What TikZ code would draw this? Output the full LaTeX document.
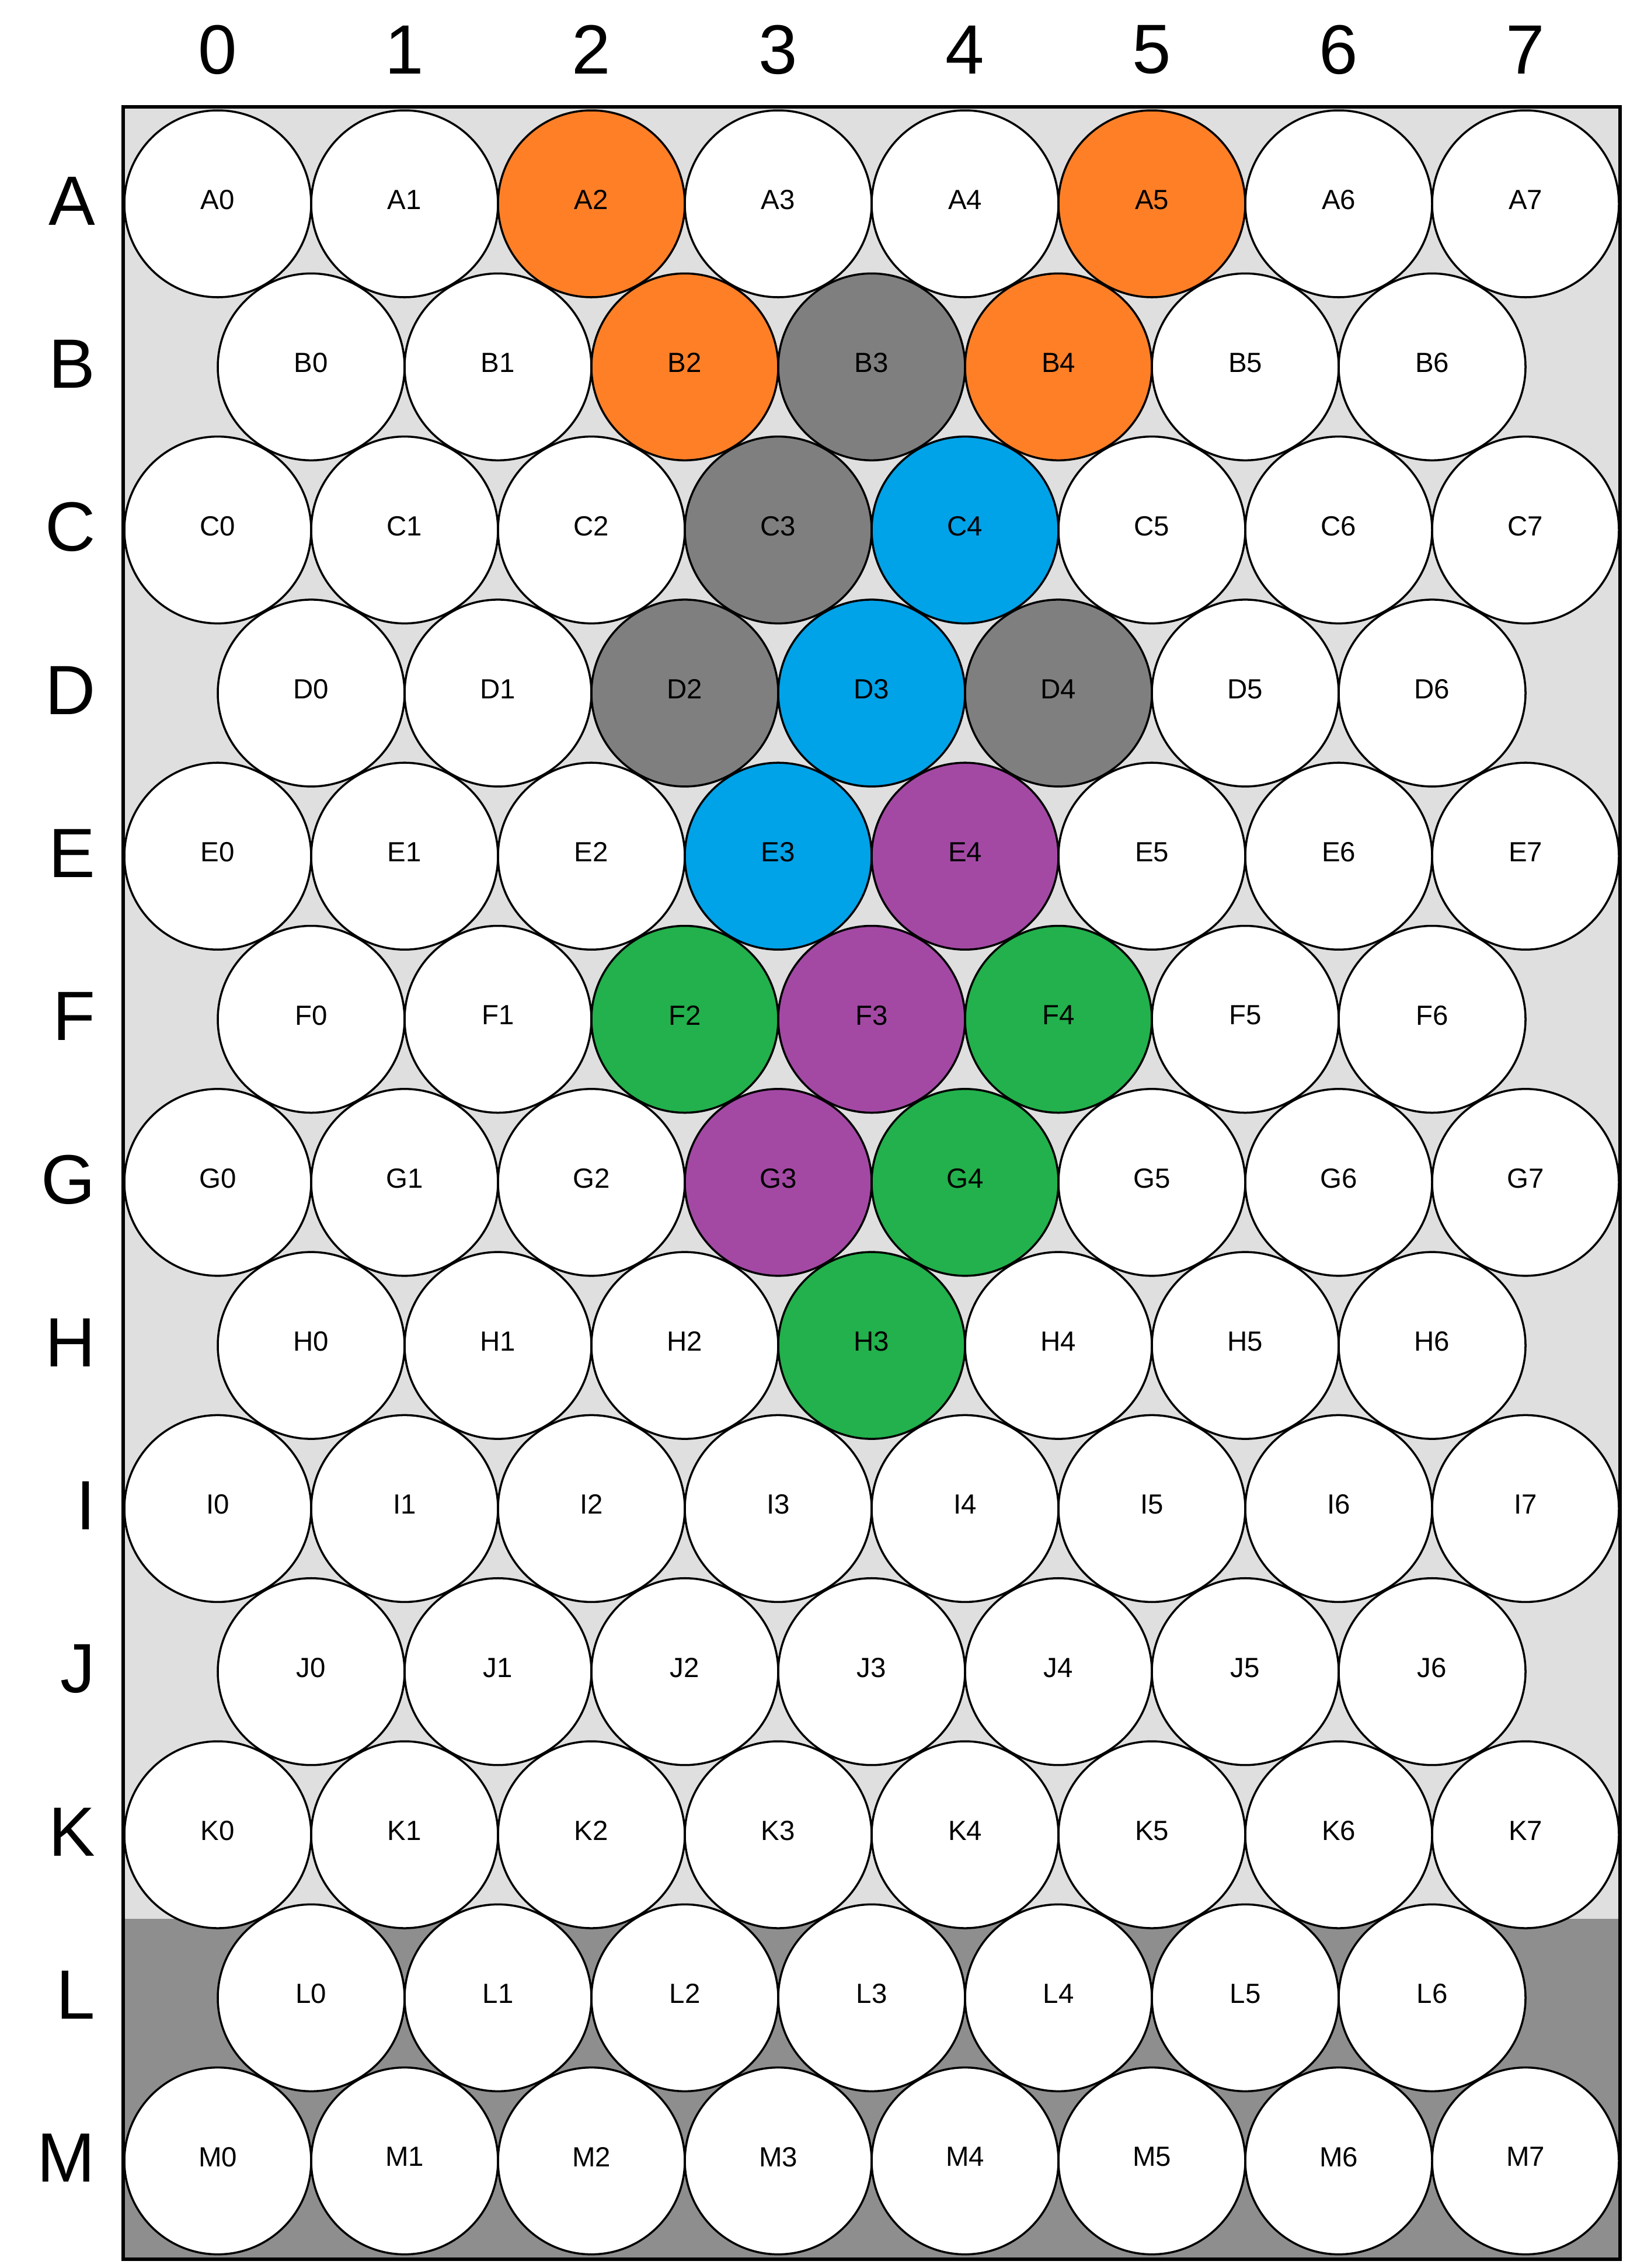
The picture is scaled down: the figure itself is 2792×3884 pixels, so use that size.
\documentclass[tikz,border=0pt]{standalone}
\usepackage{fontspec}
\setmainfont{Liberation Sans}
\usepackage{xcolor}
\usepackage{tikz}
\definecolor{plategray}{HTML}{DFDFDF}
\definecolor{deadgray}{HTML}{8E8E8E}
\definecolor{orangewell}{HTML}{FF7F27}
\definecolor{graywell}{HTML}{7F7F7F}
\definecolor{bluewell}{HTML}{00A2E8}
\definecolor{purplewell}{HTML}{A349A4}
\definecolor{greenwell}{HTML}{22B14C}

\begin{document}
\begin{tikzpicture}[
  x=0.1mm, y=-0.1mm,
  well/.style={draw, circle, fill=white, line width=1pt, minimum size=32mm,
    inner sep=0pt, text depth=4pt, font=\fontsize{13.5}{16}\selectfont},
  rowlabel/.style={anchor=east, inner sep=0pt, yshift=1.4pt,
    font=\fontsize{34}{40}\selectfont},
  collabel/.style={inner sep=0pt, font=\fontsize{34}{40}\selectfont},
  % filled wells
  wellA2/.style={fill=orangewell}, wellA5/.style={fill=orangewell},
  wellB2/.style={fill=orangewell}, wellB4/.style={fill=orangewell},
  wellB3/.style={fill=graywell}, wellC3/.style={fill=graywell},
  wellD2/.style={fill=graywell}, wellD4/.style={fill=graywell},
  wellC4/.style={fill=bluewell}, wellD3/.style={fill=bluewell},
  wellE3/.style={fill=bluewell},
  wellE4/.style={fill=purplewell}, wellF3/.style={fill=purplewell},
  wellG3/.style={fill=purplewell},
  wellF2/.style={fill=greenwell}, wellF4/.style={fill=greenwell},
  wellG4/.style={fill=greenwell}, wellH3/.style={fill=greenwell}
]
  \useasboundingbox (0,0) rectangle (2792,3884);

  % plate
  \fill[plategray] (211,183) rectangle (2775,3286);
  \fill[deadgray] (211,3286) rectangle (2775,3869);

  % column numbers
  \foreach \c in {0,...,7}
    \node[collabel] (col\c) at (373+320*\c, 85) {\c};

  % rows of wells
  \foreach \r [count=\i from 0] in {A,B,C,D,E,F,G,H,I,J,K,L,M} {
    \pgfmathtruncatemacro{\odd}{mod(\i,2)}
    \pgfmathtruncatemacro{\last}{7-\odd}
    \node[rowlabel] (row\r) at (164, 349+279.3*\i) {\r};
    \foreach \c in {0,...,\last}
      \node[well, well\r\c/.try] (\r\c) at (373+160*\odd+320*\c, 349+279.3*\i) {\r\c};
  }

  \draw[line width=1.7pt] (211,183) rectangle (2775,3869);
\end{tikzpicture}
\end{document}
